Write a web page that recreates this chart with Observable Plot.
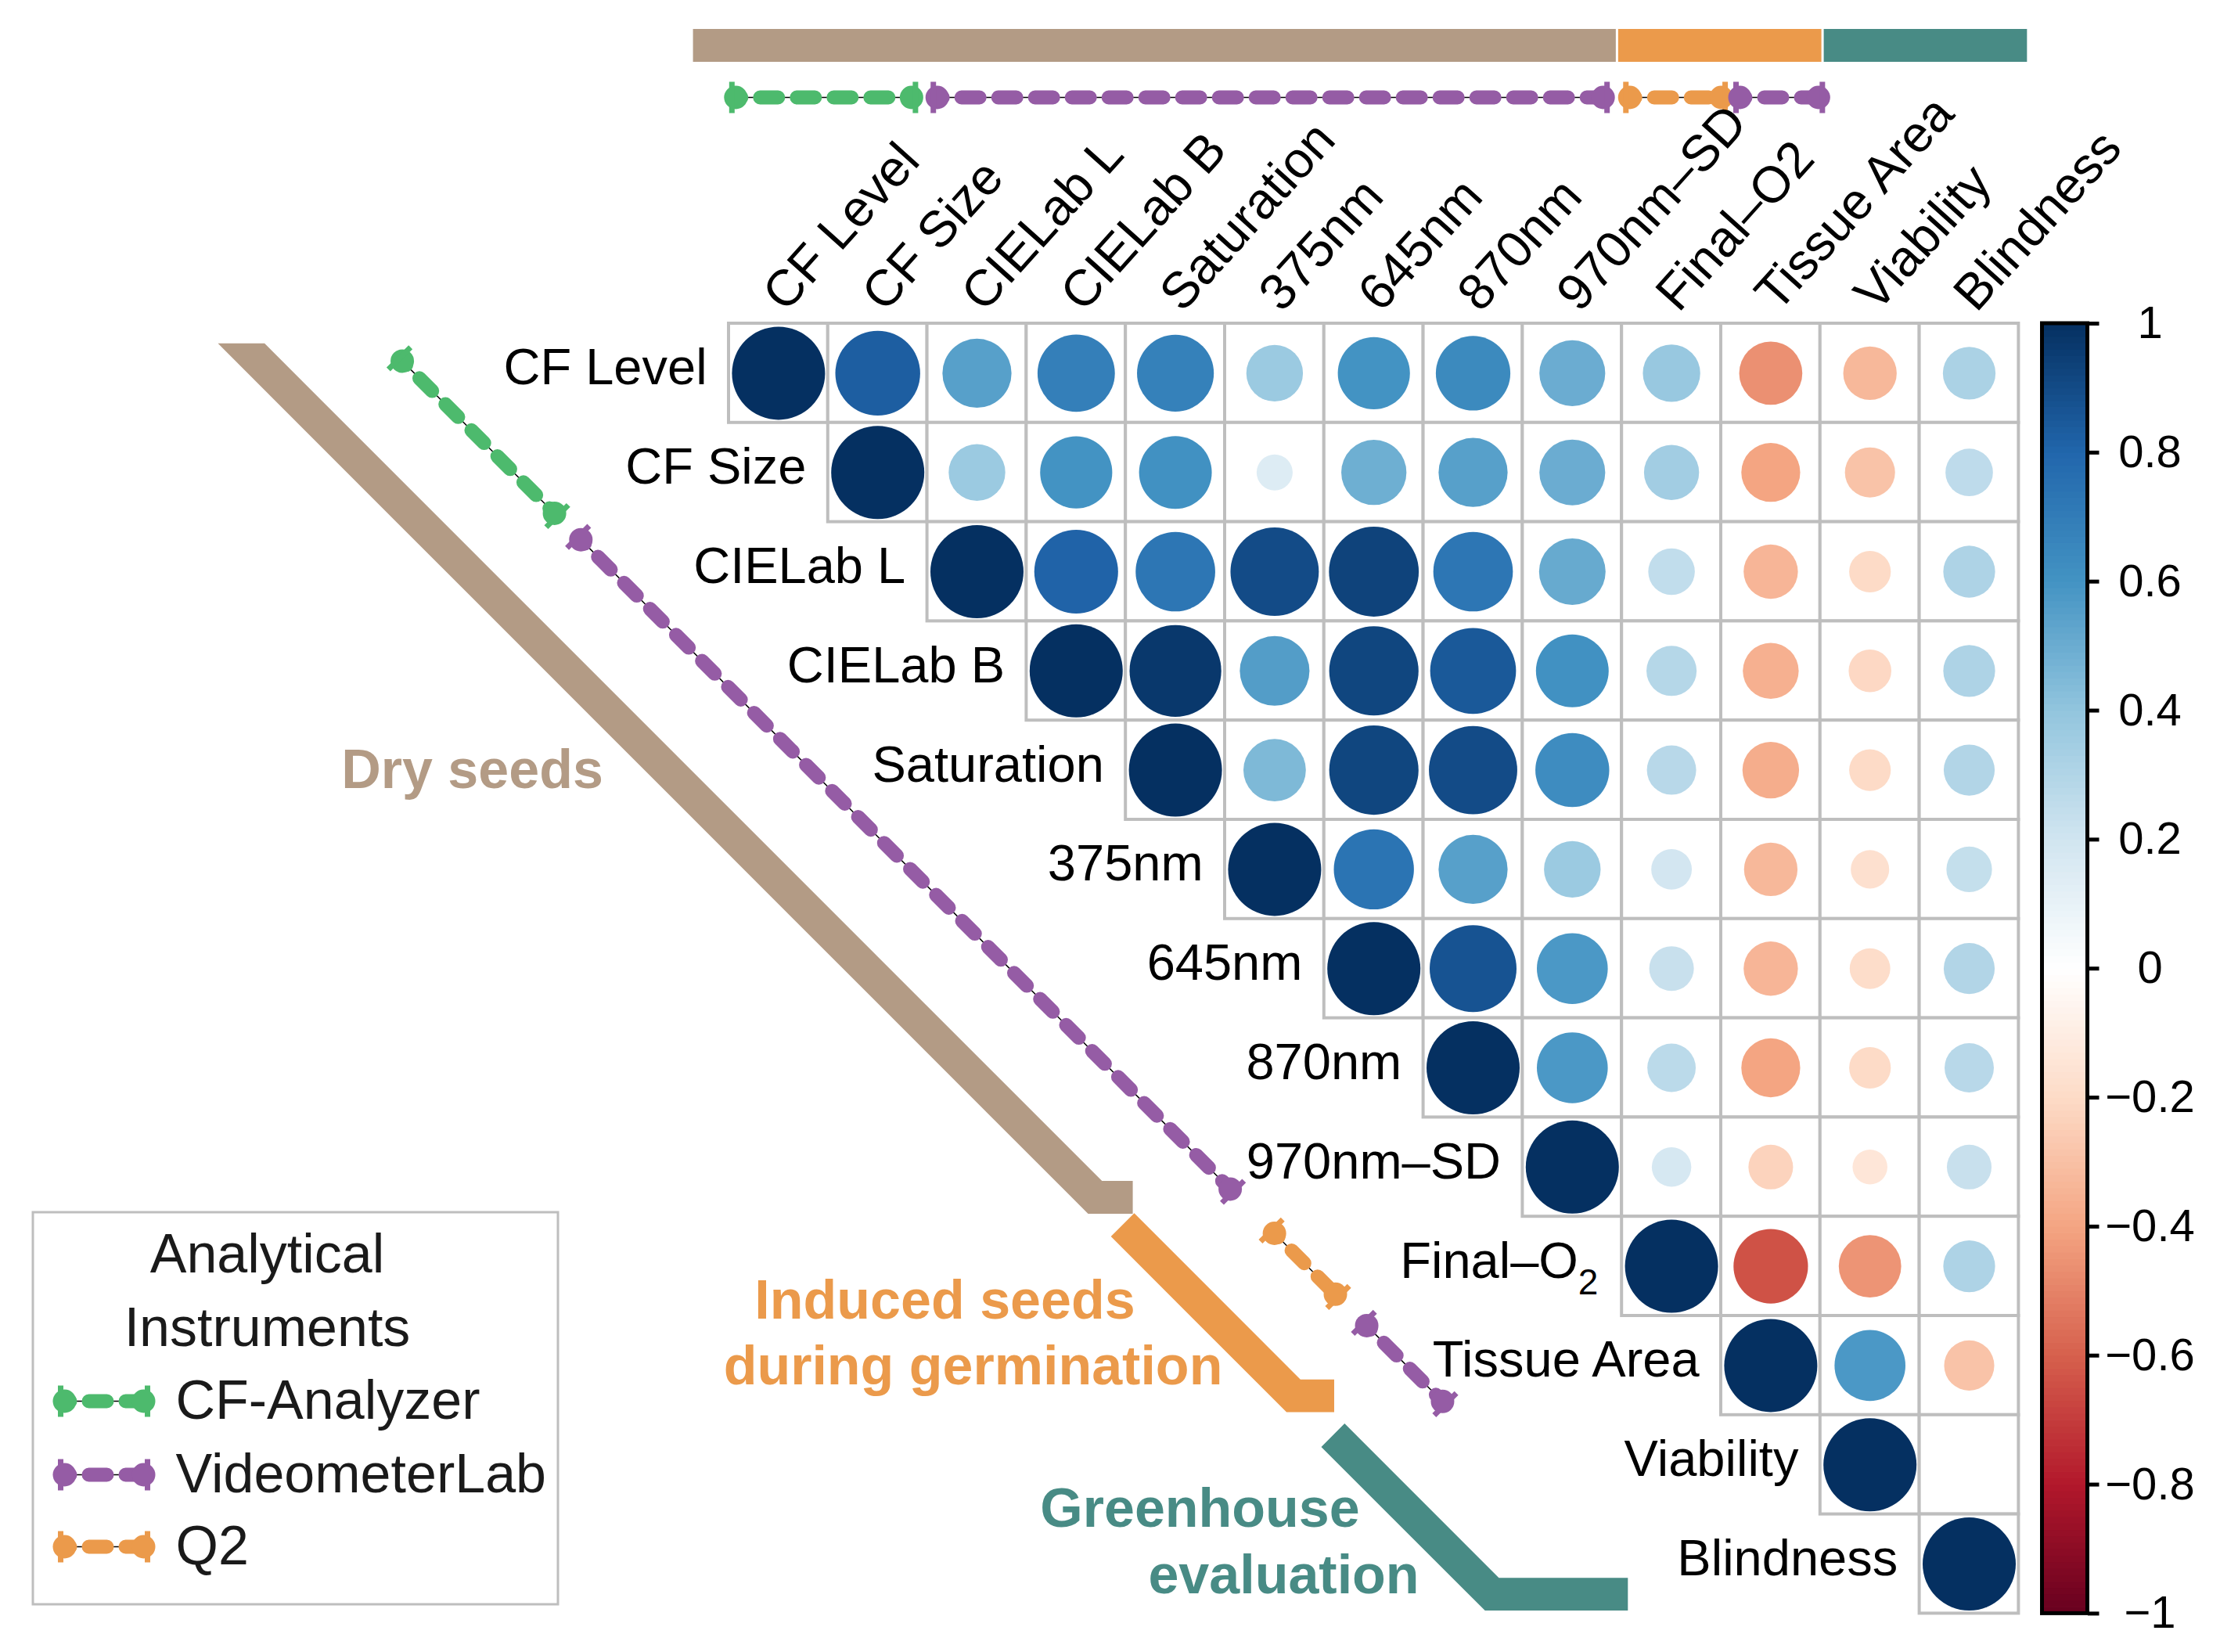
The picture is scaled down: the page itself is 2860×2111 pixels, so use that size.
<!DOCTYPE html>
<html><head><meta charset="utf-8">
<script src="https://cdn.jsdelivr.net/npm/d3@7"></script>
<script src="https://cdn.jsdelivr.net/npm/@observablehq/plot@0.6"></script>
<style>body{margin:0;background:#fff;} svg{display:block;}</style>
</head><body><div id="chart"></div>
<script>
// ---------------- DATA ----------------
const variables = ["CF Level","CF Size","CIELab L","CIELab B","Saturation","375nm","645nm","870nm","970nm–SD","Final–O2","Tissue Area","Viability","Blindness"];
const rowLabels = ["CF Level","CF Size","CIELab L","CIELab B","Saturation","375nm","645nm","870nm","970nm–SD","Final–O","Tissue Area","Viability","Blindness"];
// upper triangle, row i holds correlations with columns i..12
const corrRows = [
  [1, 0.83, 0.55, 0.69, 0.68, 0.37, 0.60, 0.64, 0.50, 0.38, -0.46, -0.33, 0.32],
  [1, 0.37, 0.60, 0.61, 0.15, 0.49, 0.55, 0.50, 0.35, -0.40, -0.29, 0.26],
  [1, 0.81, 0.73, 0.90, 0.93, 0.73, 0.51, 0.25, -0.34, -0.20, 0.31],
  [1, 0.97, 0.56, 0.92, 0.85, 0.61, 0.29, -0.36, -0.21, 0.31],
  [1, 0.45, 0.92, 0.90, 0.63, 0.28, -0.37, -0.20, 0.30],
  [1, 0.74, 0.55, 0.37, 0.19, -0.33, -0.17, 0.24],
  [1, 0.87, 0.58, 0.23, -0.34, -0.19, 0.30],
  [1, 0.58, 0.27, -0.40, -0.20, 0.28],
  [1, 0.18, -0.23, -0.14, 0.23],
  [1, -0.64, -0.45, 0.31],
  [1, 0.58, -0.29],
  [1, 0],
  [1]
];
const groupNames = ["Dry seeds", "Induced seeds during germination", "Greenhouse evaluation"];
const groupSizes = [9, 2, 2];
const instrumentNames = ["CF-Analyzer", "VideometerLab", "Q2"];
const instrumentRunNames = ["CF-Analyzer", "VideometerLab", "Q2", "VideometerLab"];
const instrumentRunSizes = [2, 7, 1, 1];
const colorbarTicks = [1, 0.8, 0.6, 0.4, 0.2, 0, -0.2, -0.4, -0.6, -0.8, -1];

// ---------------- STYLE / LAYOUT ----------------
const palette = ["#67001F","#B2182B","#D6604D","#F4A582","#FDDBC7","#FFFFFF","#D1E5F0","#92C5DE","#4393C3","#2166AC","#053061"];
const groupColors = ["#b39b85", "#eb9a4b", "#488b85"];
const instrumentColors = {"CF-Analyzer": "#4dba6d", "VideometerLab": "#955ca5", "Q2": "#eb9a4b"};
const W = 2860, H = 2111, CELL = 126.8, X0 = 931, Y0 = 413;
const px = v => (v - X0) / CELL;   // pixel -> cell units (layout helper)
const py = v => (v - Y0) / CELL;
const FONT = "'Liberation Sans', Arial, Helvetica, sans-serif";
const n = variables.length;
const diagStartPad = [0.35, 0.15, 0.14, 0.07], diagEndPad = [0.06, 0.25, 0.19, 0.11];
const topStartPad = [0.03, 0.06, 0.04, 0.15], topEndPad = [0.12, 0.15, -0.04, -0.02];

// ---------------- derived tables ----------------
const cells = [];
corrRows.forEach((row, i) => row.forEach((v, k) => cells.push({i, j: i + k, v})));

let acc = 0;
const groups = groupNames.map((name, g) => { const a = acc; acc += groupSizes[g]; return {name, a, b: acc, color: groupColors[g]}; });
acc = 0;
const runs = instrumentRunNames.map((name, k) => { const a = acc; acc += instrumentRunSizes[k]; return {name, a, b: acc, color: instrumentColors[name]}; });

const marks = [];

// ---- instrument line helper ----
function instrumentLine(x1, y1, x2, y2, color, perp) {
  const h = 20 / CELL;
  const dx = x2 - x1, dy = y2 - y1, len = Math.hypot(dx, dy), ux = dx / len, uy = dy / len;
  const inset = 5 / CELL;
  const seg = [{x1, y1, x2, y2}];
  marks.push(Plot.link(seg, {x1: "x1", y1: "y1", x2: "x2", y2: "y2", stroke: "#000", strokeWidth: 1.5}));
  marks.push(Plot.link(seg, {x1: "x1", y1: "y1", x2: "x2", y2: "y2", stroke: color, strokeWidth: 18,
    strokeDasharray: "23 24", strokeDashoffset: 11, strokeLinecap: "round"}));
  const ends = [{x: x1 + ux * inset, y: y1 + uy * inset}, {x: x2 - ux * inset, y: y2 - uy * inset}];
  marks.push(Plot.dot(ends, {x: "x", y: "y", r: 15, fill: color, stroke: "none"}));
  const ticks = [{x: x1, y: y1}, {x: x2, y: y2}];
  marks.push(Plot.link(ticks, {x1: d => d.x - perp[0] * h, y1: d => d.y - perp[1] * h,
    x2: d => d.x + perp[0] * h, y2: d => d.y + perp[1] * h, stroke: color, strokeWidth: 7}));
}

// ---- top group bars ----
groups.forEach(gr => marks.push(Plot.rect([gr], {x1: d => -0.37 + 1.036 * d.a, x2: d => -0.37 + 1.036 * d.b,
  y1: py(37), y2: py(79), fill: gr.color, insetLeft: 1.5, insetRight: 1.5})));

// ---- top instrument line ----
runs.forEach((r, k) => instrumentLine(r.a + topStartPad[k], py(124), r.b - topEndPad[k], py(124), r.color, [0, 1]));

// ---- diagonal instrument line (x = y - 3.67) ----
const DIAG = -3.67;
runs.forEach((r, k) => {
  const s = r.a + diagStartPad[k], e = r.b - diagEndPad[k];
  instrumentLine(s + DIAG, s, e + DIAG, e, r.color, [Math.SQRT1_2, -Math.SQRT1_2]);
});

// ---- diagonal group bands ----
const L = -5.35, U = -4.88, FOOT = 0.33;
const bandStart = [0.2, 0.2, 0.32], bandFoot = [0.45, 0.48, 1.44], bandPerp = [false, true, true];
groups.forEach((gr, g) => {
  const ys = gr.a + bandStart[g], ye = gr.b - 0.03, fr = ye + L + bandFoot[g];
  const pts = [[ys + L, ys]];
  if (bandPerp[g]) pts.push([ys + (L + U) / 2, ys + (L - U) / 2]); else pts.push([ys + U, ys]);
  pts.push([ye - FOOT + U, ye - FOOT], [fr, ye - FOOT], [fr, ye], [ye + L, ye], [ys + L, ys]);
  marks.push(Plot.line(pts, {x: d => d[0], y: d => d[1], fill: gr.color, stroke: "none"}));
});

// ---- group labels ----
const groupLabelLines = [
  {text: "Dry seeds", x: px(603), y: py(984), color: groupColors[0]},
  {text: "Induced seeds", x: px(1207), y: py(1662), color: groupColors[1]},
  {text: "during germination", x: px(1243), y: py(1746), color: groupColors[1]},
  {text: "Greenhouse", x: px(1533), y: py(1928), color: groupColors[2]},
  {text: "evaluation", x: px(1640), y: py(2013), color: groupColors[2]}
];
groupLabelLines.forEach(t => marks.push(Plot.text([t], {x: "x", y: "y", text: "text", fill: t.color,
  fontSize: 70, fontWeight: "bold", textAnchor: "middle", lineAnchor: "middle"})));

// ---- matrix ----
marks.push(Plot.rect(cells, {x1: d => d.j, x2: d => d.j + 1, y1: d => d.i, y2: d => d.i + 1,
  fill: "white", stroke: "#bebebe", strokeWidth: 4}));
marks.push(Plot.dot(cells, {x: d => d.j + 0.5, y: d => d.i + 0.5, r: d => Math.abs(d.v), fill: d => d.v, stroke: "none", sort: null}));

// ---- row labels ----
marks.push(Plot.text(rowLabels.map((t, i) => ({t, i})), {
  x: d => d.i - (d.i === 9 ? 0.44 : 0.22), y: d => d.i + 0.45, text: "t",
  textAnchor: "end", lineAnchor: "middle", fontSize: 65, fill: "#000"}));
marks.push(Plot.text([{t: "2", i: 9}], {x: d => d.i - 0.24, y: d => d.i + 0.67, text: "t",
  textAnchor: "end", lineAnchor: "middle", fontSize: 46, fill: "#000"}));

// ---- column labels ----
marks.push(Plot.text(variables.map((t, j) => ({t, j})), {
  x: d => d.j + 0.57, y: -0.1, text: "t", rotate: -48,
  textAnchor: "start", lineAnchor: "bottom", fontSize: 65, fill: "#000"}));

// ---- colour bar ----
const CBX1 = px(2609.5), CBX2 = px(2667.5);
const cbY = v => (1 - v) * n / 2;
const steps = d3.range(200).map(k => -1 + k * 0.01);
marks.push(Plot.rect(steps, {x1: CBX1, x2: CBX2, y1: v => cbY(v + 0.01) , y2: v => cbY(v) + 0.006, fill: v => v + 0.005}));
marks.push(Plot.rect([0], {x1: CBX1, x2: CBX2, y1: cbY(1), y2: cbY(-1), fill: "none", stroke: "#000", strokeWidth: 5}));
marks.push(Plot.link(colorbarTicks, {x1: CBX2, x2: px(2682), y1: v => cbY(v), y2: v => cbY(v), stroke: "#000", strokeWidth: 5}));
marks.push(Plot.text(colorbarTicks, {x: px(2747), y: v => cbY(v), text: v => String(v).replace("-", "−"),
  textAnchor: "middle", lineAnchor: "middle", fontSize: 58, fill: "#000"}));

// ---- legend ----
marks.push(Plot.rect([0], {x1: px(42), x2: px(713), y1: py(1549), y2: py(2050), fill: "white", stroke: "#bebebe", strokeWidth: 3}));
marks.push(Plot.text(["Analytical", "Instruments"], {x: px(341), y: (d, k) => [py(1603), py(1697)][k], text: d => d,
  textAnchor: "middle", lineAnchor: "middle", fontSize: 70, fill: "#1a1a1a"}));
const legendY = [py(1790), py(1884), py(1976)];
instrumentNames.forEach((name, k) => {
  instrumentLine(px(77), legendY[k], px(188), legendY[k], instrumentColors[name], [0, 1]);
});
marks.push(Plot.text(instrumentNames, {x: px(224), y: (d, k) => legendY[k], text: d => d,
  textAnchor: "start", lineAnchor: "middle", fontSize: 70, fill: "#1a1a1a"}));

const chart = Plot.plot({
  width: W, height: H, margin: 0,
  style: {fontFamily: FONT, background: "white", overflow: "visible"},
  x: {domain: [px(0), px(W)], axis: null},
  y: {domain: [py(0), py(H)], reverse: true, axis: null},
  color: {type: "linear", domain: d3.range(11).map(k => -1 + k * 0.2), range: palette, interpolate: "rgb"},
  r: {type: "sqrt", domain: [0, 1], range: [0, 59.5]},
  marks
});
document.getElementById("chart").appendChild(chart);
</script>
</body></html>
